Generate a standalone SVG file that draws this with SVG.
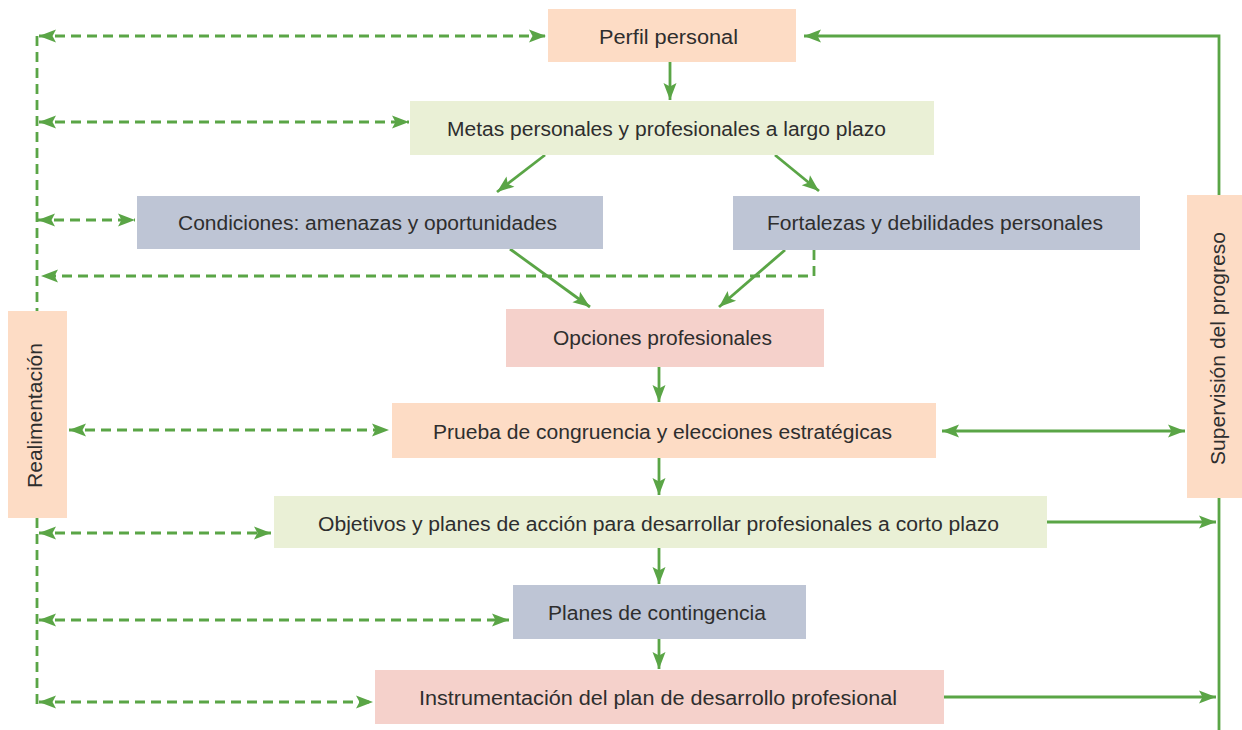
<svg xmlns="http://www.w3.org/2000/svg" width="1242" height="730" viewBox="0 0 1242 730">
<style>
.peach{fill:#FDDCC5}
.lgreen{fill:#EAF0D6}
.grey{fill:#BEC5D5}
.pink{fill:#F5D1CB}
text{font-family:"Liberation Sans",Arial,sans-serif;font-size:20px;fill:#2E2E2E;text-anchor:middle}
.solid{stroke:#5AA546;stroke-width:2.8;fill:none}
.dash{stroke:#5AA546;stroke-width:2.8;fill:none;stroke-dasharray:10 6}
</style>
<defs>
<marker id="ah" markerUnits="userSpaceOnUse" markerWidth="19" markerHeight="15" viewBox="0 0 19 15" refX="18" refY="7.5" orient="auto-start-reverse">
<path d="M1,1 L18,7.5 L1,14 L4.5,7.5 z" fill="#5AA546"/>
</marker>
</defs>
<g id="connectors">
<path class="dash" d="M37,36 V311"/>
<path class="dash" d="M37,518 V705"/>
<line class="dash" x1="39" y1="36" x2="546" y2="36" marker-start="url(#ah)" marker-end="url(#ah)"/>
<line class="dash" x1="39" y1="122" x2="409" y2="122" marker-start="url(#ah)" marker-end="url(#ah)"/>
<line class="dash" x1="38" y1="220" x2="135" y2="220" marker-start="url(#ah)" marker-end="url(#ah)"/>
<path class="dash" d="M814,250 V276 H41" marker-end="url(#ah)"/>
<line class="dash" x1="69" y1="430" x2="389" y2="430" marker-start="url(#ah)" marker-end="url(#ah)"/>
<line class="dash" x1="39" y1="533" x2="271" y2="533" marker-start="url(#ah)" marker-end="url(#ah)"/>
<line class="dash" x1="39" y1="620" x2="509" y2="620" marker-start="url(#ah)" marker-end="url(#ah)"/>
<line class="dash" x1="39" y1="702" x2="373" y2="702" marker-start="url(#ah)" marker-end="url(#ah)"/>
<line class="solid" x1="670" y1="62" x2="670" y2="100" marker-end="url(#ah)"/>
<line class="solid" x1="545" y1="155" x2="497" y2="192" marker-end="url(#ah)"/>
<line class="solid" x1="775" y1="155" x2="819" y2="191" marker-end="url(#ah)"/>
<line class="solid" x1="510" y1="249" x2="590" y2="307" marker-end="url(#ah)"/>
<line class="solid" x1="785" y1="250" x2="719" y2="307" marker-end="url(#ah)"/>
<line class="solid" x1="659" y1="367" x2="659" y2="402" marker-end="url(#ah)"/>
<line class="solid" x1="659" y1="458" x2="659" y2="495" marker-end="url(#ah)"/>
<line class="solid" x1="659" y1="548" x2="659" y2="584" marker-end="url(#ah)"/>
<line class="solid" x1="659" y1="639" x2="659" y2="669" marker-end="url(#ah)"/>
<path class="solid" d="M1219,195 V36 H804" marker-end="url(#ah)"/>
<path class="solid" d="M1219,498 V730"/>
<line class="solid" x1="942" y1="431" x2="1185" y2="431" marker-start="url(#ah)" marker-end="url(#ah)"/>
<line class="solid" x1="1047" y1="522" x2="1216" y2="522" marker-end="url(#ah)"/>
<line class="solid" x1="944" y1="697" x2="1216" y2="697" marker-end="url(#ah)"/>
</g>
<g id="perfil"><rect class="peach" x="548" y="9" width="248" height="53"/><text x="668.5" y="43.5" textLength="139" lengthAdjust="spacingAndGlyphs">Perfil personal</text></g>
<g id="metas"><rect class="lgreen" x="410" y="101" width="524" height="54"/><text x="666.5" y="136" textLength="439" lengthAdjust="spacingAndGlyphs">Metas personales y profesionales a largo plazo</text></g>
<g id="condiciones"><rect class="grey" x="137" y="196" width="466" height="53"/><text x="367.5" y="230" textLength="379" lengthAdjust="spacingAndGlyphs">Condiciones: amenazas y oportunidades</text></g>
<g id="fortalezas"><rect class="grey" x="733" y="196" width="407" height="54"/><text x="935" y="230" textLength="336" lengthAdjust="spacingAndGlyphs">Fortalezas y debilidades personales</text></g>
<g id="opciones"><rect class="pink" x="506" y="309" width="318" height="58"/><text x="662.5" y="345" textLength="219" lengthAdjust="spacingAndGlyphs">Opciones profesionales</text></g>
<g id="prueba"><rect class="peach" x="392" y="403" width="544" height="55"/><text x="662.5" y="439" textLength="459" lengthAdjust="spacingAndGlyphs">Prueba de congruencia y elecciones estratégicas</text></g>
<g id="objetivos"><rect class="lgreen" x="274" y="496" width="773" height="52"/><text x="658.5" y="531" textLength="681" lengthAdjust="spacingAndGlyphs">Objetivos y planes de acción para desarrollar profesionales a corto plazo</text></g>
<g id="contingencia"><rect class="grey" x="513" y="585" width="293" height="54"/><text x="657" y="620" textLength="218" lengthAdjust="spacingAndGlyphs">Planes de contingencia</text></g>
<g id="instrumentacion"><rect class="pink" x="375" y="670" width="569" height="54"/><text x="658" y="705" textLength="478" lengthAdjust="spacingAndGlyphs">Instrumentación del plan de desarrollo profesional</text></g>
<g id="realimentacion"><rect class="peach" x="8" y="311" width="59" height="207"/><text transform="translate(42,415.5) rotate(-90)" textLength="145" lengthAdjust="spacingAndGlyphs">Realimentación</text></g>
<g id="supervision"><rect class="peach" x="1187" y="195" width="55" height="303"/><text transform="translate(1225,348.5) rotate(-90)" textLength="233" lengthAdjust="spacingAndGlyphs">Supervisión del progreso</text></g>
</svg>
